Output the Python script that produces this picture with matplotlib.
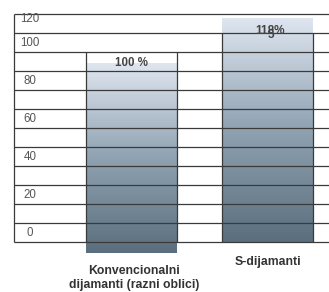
import numpy as np
import matplotlib.pyplot as plt
from matplotlib.patches import Rectangle
from matplotlib.colors import LinearSegmentedColormap

plt.rcParams['font.family'] = ['Liberation Sans', 'DejaVu Sans']

# data
categories = ['Konvencionalni\ndijamanti (razni oblici)', 'S-dijamanti']
values = [100, 118]
value_labels = ['100 %', '118%']
tick_values = [0, 20, 40, 60, 80, 100, 120]
grid_values = np.arange(0, 130, 10)

W, H = 329, 292
fig = plt.figure(figsize=(W / 100, H / 100), dpi=100)
ax = fig.add_axes([0, 0, 1, 1])

# pixel layout: value 0 at y=242, 1.9 px per unit; categories 136 px apart
ppu = 1.9
x0_px, dx_px = 131.5, 136.0
ax.set_ylim(-(H - 242) / ppu, 242 / ppu)
ax.set_xlim(-x0_px / dx_px, (W - x0_px) / dx_px)
ax.axis('off')

line_col = '#3a3a3a'
left = (14 - x0_px) / dx_px
right = (W - x0_px) / dx_px
bar_w = 91 / dx_px
bar_bottoms = [-5.8, 0]   # the first bar hangs below the frame in the original
edge_tops = [100, 110]    # cell borders around each bar

cmap = LinearSegmentedColormap.from_list('bar', ['#5b6e7d', '#8fa2b2', '#dfe6f0'])
grad = np.linspace(0, 1, 256).reshape(-1, 1)

for i, v in enumerate(values):
    b = bar_bottoms[i]
    x1, x2 = i - bar_w / 2, i + bar_w / 2
    rect = Rectangle((x1, b), bar_w, v, facecolor='none', edgecolor='none')
    ax.add_patch(rect)
    im = ax.imshow(grad, cmap=cmap, origin='lower', aspect='auto',
                   extent=(x1, x2, b, b + v), zorder=1)
    im.set_clip_path(rect)
    ax.vlines([x1, x2], 0, edge_tops[i], color=line_col, lw=0.9, zorder=3)

# frame and rows
ax.hlines(grid_values, left, right, color=line_col, lw=0.9, zorder=3)
ax.vlines(left, 0, 120, color=line_col, lw=0.9, zorder=3)

for t in tick_values:
    ax.text(left + 16 / dx_px, min(t + 5, 117.6), str(t), ha='center', va='center',
            fontsize=8.3, color='#555555', zorder=4)

# value labels
ax.text(0, 94.2, value_labels[0], ha='center', va='center', fontsize=8.3,
        fontweight='bold', color='#444444', zorder=4)
ax.text((270 - x0_px) / dx_px, 110.8, value_labels[1], ha='center', va='center',
        fontsize=8.5, fontweight='bold', color='#444444', zorder=4)
ax.text((271 - x0_px) / dx_px, 108.9, '5', ha='center', va='center', fontsize=8.5,
        fontweight='bold', color='#444444', zorder=4)

# category labels
ax.text((134 - x0_px) / dx_px, -(278 - 242) / ppu, categories[0], ha='center',
        va='center', fontsize=8.8, fontweight='bold', color='#333333',
        linespacing=1.12)
ax.text((267.5 - x0_px) / dx_px, -(262.5 - 242) / ppu, categories[1], ha='center',
        va='center', fontsize=8.8, fontweight='bold', color='#333333')

fig.savefig('out.png', dpi=100)
